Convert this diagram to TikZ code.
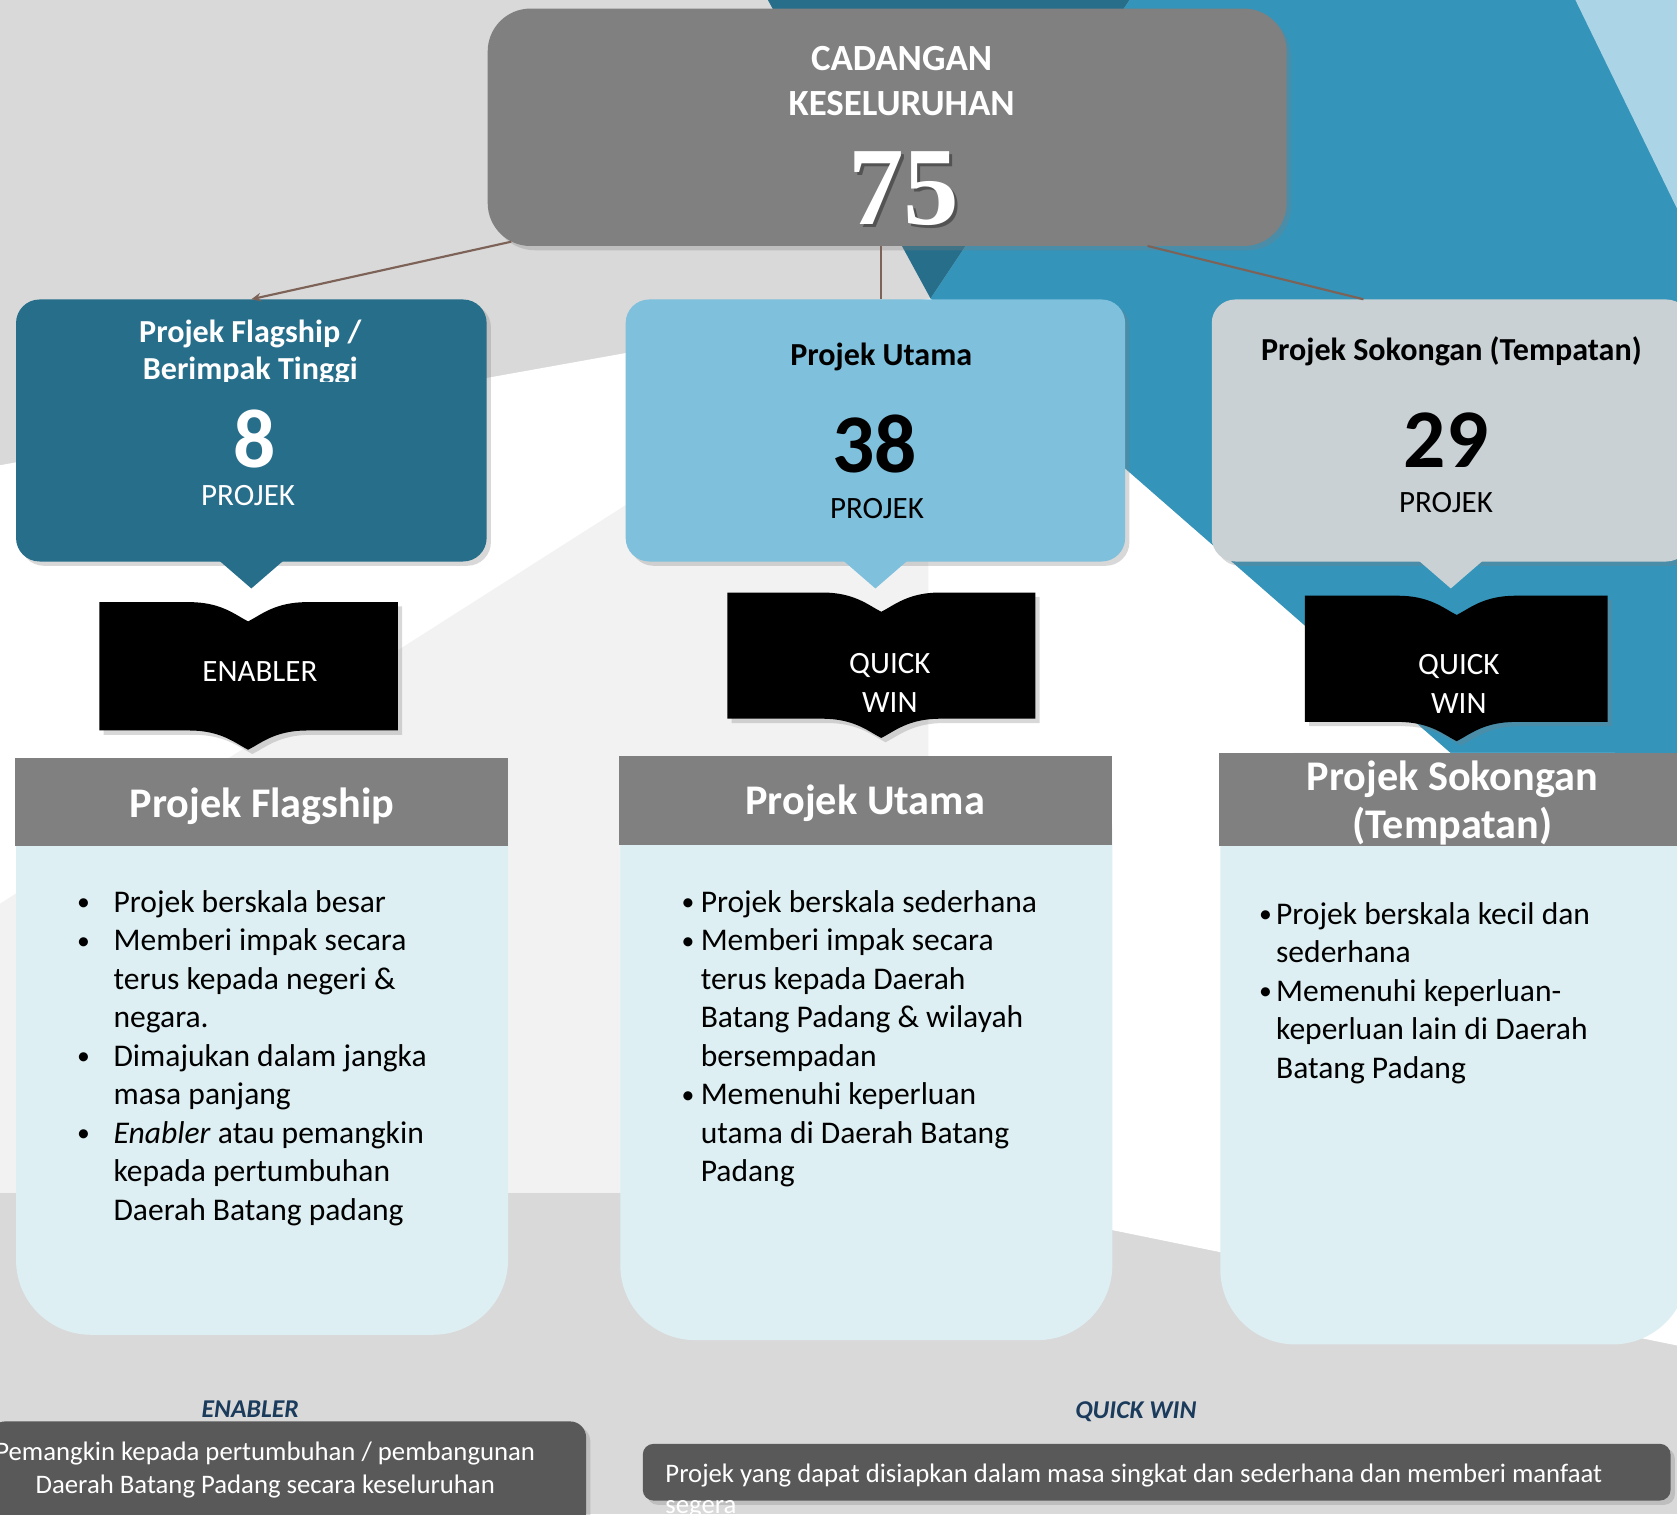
\documentclass[tikz,border=0pt]{standalone}
\usepackage{fontspec}
\setmainfont{Carlito}
\newfontfamily\numserif{Liberation Serif}
\usetikzlibrary{shadows,arrows.meta,calc}
\definecolor{cBg}{HTML}{D9D9D9}
\definecolor{cLight}{HTML}{F2F2F2}
\definecolor{cDark}{HTML}{276E8B}
\definecolor{cMid}{HTML}{3494BA}
\definecolor{cPale}{HTML}{ABD5E7}
\definecolor{cBoxB}{HTML}{7FC0DC}
\definecolor{cBoxC}{HTML}{C9D1D4}
\definecolor{cGrey}{HTML}{808080}
\definecolor{cBody}{HTML}{DDEFF2}
\definecolor{cFoot}{HTML}{595959}
\definecolor{cNavy}{HTML}{1B3B5C}
\definecolor{cLink}{HTML}{7D6257}
\newcommand{\bannerpath}[5]{% x0 x1 notch top bottom
  \fill[black, softshadow] (#1,#4) -- ({#3-55},#4) .. controls ({#3-25},#4) and ({#3-12},{#4+12}) .. (#3,{#4+18})
    .. controls ({#3+12},{#4+12}) and ({#3+25},#4) .. ({#3+55},#4) -- (#2,#4) -- (#2,#5) -- ({#3+55},#5)
    .. controls ({#3+25},#5) and ({#3+12},{#5+12}) .. (#3,{#5+18})
    .. controls ({#3-12},{#5+12}) and ({#3-25},#5) .. ({#3-55},#5) -- (#1,#5) -- cycle;}
\newcommand{\smallbul}{\raisebox{1.5pt}{\fontsize{24}{24}\selectfont\textbullet}}
\tikzset{
  softshadow/.style={drop shadow={opacity=0.3,shadow xshift=4pt,shadow yshift=-4pt}},
  boxsty/.style={rounded corners=22pt, inner sep=0pt, minimum height=245pt, softshadow},
  ttlsty/.style={anchor=base, inner sep=0pt, font=\fontsize{30}{36}\selectfont\bfseries},
  bigsty/.style={anchor=base, inner sep=0pt, font=\fontsize{78}{90}\selectfont\bfseries},
  unitsty/.style={anchor=base, inner sep=0pt, font=\fontsize{29}{35}\selectfont},
  bansty/.style={anchor=base, inner sep=0pt, text=white, font=\fontsize{29}{35}\selectfont},
  hdrtext/.style={anchor=base, inner sep=0pt, text=white, font=\fontsize{39.5}{46}\selectfont\bfseries},
  hdrsty/.style={fill=cGrey, inner sep=0pt},
  bodysty/.style={fill=cBody, rounded corners=70pt, inner sep=0pt},
  liststy/.style={anchor=base west, inner sep=0pt, font=\fontsize{29.5}{36}\selectfont},
  footbox/.style={fill=cFoot, inner sep=0pt, softshadow},
  foottext/.style={inner sep=0pt, text=white, font=\fontsize{25}{30}\selectfont},
  footlabel/.style={anchor=base, inner sep=0pt, text=cNavy, font=\fontsize{24}{29}\selectfont\bfseries\itshape},
  conn/.style={draw=cLink, line width=2pt},
}
\begin{document}
\begin{tikzpicture}[x=1pt,y=-1pt]
\useasboundingbox (0,0) rectangle (1568,1416);
% background
\fill[cBg] (0,0) rectangle (1568,1416);
\fill[white] (0,435) -- (870,279) -- (1568,889) -- (1568,1258) -- (868,1115) -- (0,1115) -- cycle;
\fill[cLight] (0,845) -- (868,292) -- (868,1115) -- (0,1115) -- cycle;
\fill[cMid] (1056,0) -- (1568,0) -- (1568,889) -- (870,279) -- cycle;
\fill[cDark] (718,0) -- (1056,0) -- (870,279) -- cycle;
\fill[cPale] (1473,0) -- (1568,0) -- (1568,195) -- cycle;

% top box
\node[fill=cGrey, rounded corners=40pt, minimum width=747pt, minimum height=222pt, inner sep=0pt, softshadow] (top) at (829.5,119) {};
\node[ttlsty, text=white, font=\fontsize{34.5}{40}\selectfont\bfseries] (t1) at (843,66) {CADANGAN};
\node[ttlsty, text=white, font=\fontsize{34.5}{40}\selectfont\bfseries] (t2) at (843,108) {KESELURUHAN};
\node[anchor=base, inner sep=0pt, text=black, opacity=0.35, font=\numserif\fontsize{104}{114}\selectfont\bfseries] (t3s) at (848,213) {75};
\node[anchor=base, inner sep=0pt, text=white, font=\numserif\fontsize{104}{114}\selectfont\bfseries] (t3) at (845,210) {75};

% level two boxes
\node[boxsty, fill=cDark, minimum width=440pt] (boxA) at (235,402.5) {};
\fill[cDark] ($(boxA.south)+(-30,-1)$) -- ($(boxA.south)+(30,-1)$) -- ($(boxA.south)+(0,25)$) -- cycle;
\node[ttlsty, text=white] (a1) at (234,320) {Projek Flagship /};
\begin{scope}
  \clip (15,285) rectangle (455,357);
  \node[ttlsty, text=white] (a2) at (234,355) {Berimpak Tinggi};
\end{scope}
\node[bigsty, text=white] (a3) at (238,437) {8};
\node[unitsty, text=white] (a4) at (232,473) {PROJEK};

\node[boxsty, fill=cBoxB, minimum width=467pt] (boxB) at (818.5,402.5) {};
\fill[cBoxB] ($(boxB.south)+(-30,-1)$) -- ($(boxB.south)+(30,-1)$) -- ($(boxB.south)+(0,25)$) -- cycle;
\node[ttlsty, text=black] (b1) at (824,342) {Projek Utama};
\node[bigsty, text=black] (b2) at (818,442) {38};
\node[unitsty, text=black] (b3) at (820,485) {PROJEK};

\node[boxsty, fill=cBoxC, minimum width=447pt] (boxC) at (1356.5,402.5) {};
\fill[cBoxC] ($(boxC.south)+(-30,-1)$) -- ($(boxC.south)+(30,-1)$) -- ($(boxC.south)+(0,25)$) -- cycle;
\node[ttlsty, text=black] (c1) at (1357,337) {Projek Sokongan (Tempatan)};
\node[bigsty, text=black] (c2) at (1352,437) {29};
\node[unitsty, text=black] (c3) at (1352,479) {PROJEK};

% connectors
\coordinate (cL) at (478,226);
\coordinate (cM) at (824,230);
\coordinate (cR) at (1073,230);
\draw[conn, -{Stealth[length=9pt,width=8pt]}] (cL) -- (boxA.north);
\draw[conn] (cM) -- (cM |- boxB.north);
\draw[conn] (cR) -- ($(boxC.north west)+(142,0)$);

% banners
\bannerpath{93}{372}{232}{563}{683}
\node[bansty] (e1) at (243,637) {ENABLER};
\bannerpath{680}{968}{824}{554}{672}
\node[bansty] (q1) at (832,630) {QUICK};
\node[bansty] (q2) at (832,666) {WIN};
\bannerpath{1220}{1503}{1362}{557}{675}
\node[bansty] (q3) at (1364,631) {QUICK};
\node[bansty] (q4) at (1364,667) {WIN};

% columns
\node[bodysty, minimum width=460pt, minimum height=539pt] (body1) at (245,978.5) {};
\node[hdrsty, minimum width=461pt, minimum height=82pt] (hdr1) at (244.5,750) {};
\node[hdrtext] (h1) at (245,764) {Projek Flagship};

\node[bodysty, minimum width=460pt, minimum height=546pt] (body2) at (810,980) {};
\node[hdrsty, minimum width=461pt, minimum height=83pt] (hdr2) at (809.5,748.5) {};
\node[hdrtext] (h2) at (809,762) {Projek Utama};

\node[bodysty, minimum width=437pt, minimum height=553pt] (body3) at (1359.5,980.5) {};
\node[hdrsty, minimum width=438pt, minimum height=87pt] (hdr3) at (1359,747.5) {};
\begin{scope}
  \clip (1140,704) rectangle (1578,791);
  \node[hdrtext] (h3) at (1358,739) {Projek Sokongan};
  \node[hdrtext] (h4) at (1358,784) {(Tempatan)};
\end{scope}

\node[liststy] (list1) at (72,853) {\begin{tabular}[t]{@{}p{34pt}@{}l@{}}
\smallbul & Projek berskala besar\\
\smallbul & Memberi impak secara\\
 & terus kepada negeri \&\\
 & negara.\\
\smallbul & Dimajukan dalam jangka\\
 & masa panjang\\
\smallbul & \textit{Enabler} atau pemangkin\\
 & kepada pertumbuhan\\
 & Daerah Batang padang
\end{tabular}};

\node[liststy] (list2) at (637,853) {\begin{tabular}[t]{@{}p{18pt}@{}l@{}}
\smallbul & Projek berskala sederhana\\
\smallbul & Memberi impak secara\\
 & terus kepada Daerah\\
 & Batang Padang \& wilayah\\
 & bersempadan\\
\smallbul & Memenuhi keperluan\\
 & utama di Daerah Batang\\
 & Padang
\end{tabular}};

\node[liststy] (list3) at (1177,864) {\begin{tabular}[t]{@{}p{16pt}@{}l@{}}
\smallbul & Projek berskala kecil dan\\
 & sederhana\\
\smallbul & Memenuhi keperluan-\\
 & keperluan lain di Daerah\\
 & Batang Padang
\end{tabular}};

% footer
\node[footlabel] (lE) at (234,1325) {ENABLER};
\node[footlabel] (lQ) at (1062,1326) {QUICK WIN};
\node[footbox, rounded corners=15pt, minimum width=558pt, minimum height=101pt] (fL) at (269,1379.5) {};
\node[foottext, anchor=base] (fL1) at (248,1366) {Pemangkin kepada pertumbuhan / pembangunan};
\node[foottext, anchor=base] (fL2) at (248,1396) {Daerah Batang Padang secara keseluruhan};
\node[footbox, rounded corners=10pt, minimum width=961pt, minimum height=53pt] (fR) at (1081.5,1376.5) {};
\node[foottext, anchor=base west] (fR1) at (622,1386) {Projek yang dapat disiapkan dalam masa singkat dan sederhana dan memberi manfaat};
\node[foottext, anchor=base west] (fR2) at (622,1415) {segera};
\end{tikzpicture}
\end{document}
